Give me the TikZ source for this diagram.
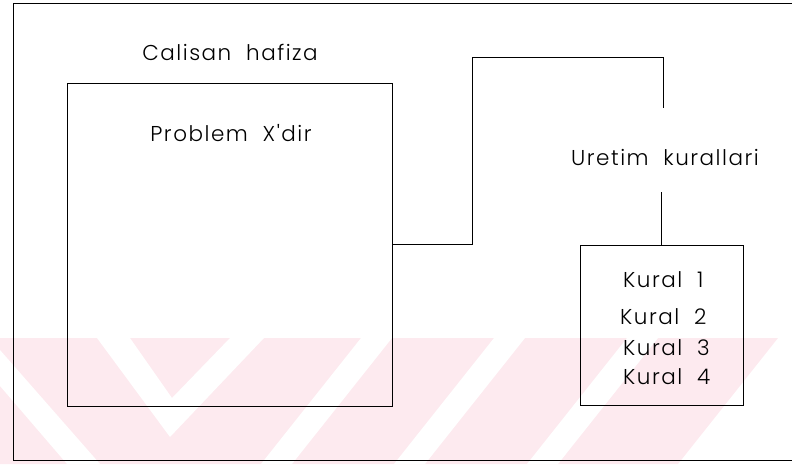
\documentclass[tikz,border=0pt]{standalone}
\usepackage{fontspec}
\setmainfont{Poppins Light}[LetterSpace=7, Ligatures=TeXReset]
\definecolor{wmpink}{RGB}{253,234,239}

\begin{document}
\begin{tikzpicture}[x=1pt, y=-1pt,
    box/.style={rectangle, draw, line width=0.9pt, inner sep=0pt},
    lbl/.style={inner sep=1pt, font=\fontsize{21.5}{24}\selectfont},
    wire/.style={line width=0.9pt}
]
    \useasboundingbox (0,0) rectangle (792,464);

    % pink band with white stripes along the bottom
    \fill[wmpink] (0,338) -- (778,338) -- (678,464) -- (0,464) -- cycle;
    \fill[white] (0,350) -- (100,464) -- (67,464) -- (0,386) -- cycle;
    \fill[white] (97,338) -- (130,338) -- (172,398) -- (230,338) -- (264,338) -- (170,437) -- cycle;
    \foreach \x in {361,494,627}
        \fill[white] (\x,338) -- (\x+31,338) -- (\x-69,464) -- (\x-100,464) -- cycle;

    % outer frame (right side runs off the page)
    \node[box, minimum width=790, minimum height=457] (hafiza) at (408,231.5) {};
    \node[lbl] (lblHafiza) at (230,52) {Calisan\ \ hafiza};

    % working memory box
    \node[box, minimum width=325, minimum height=323] (problem) at (229.5,244.5) {};
    \node[lbl] (lblProblem) at (231,133) {Problem\ \ X'dir};

    % rule base
    \node[box, minimum width=163, minimum height=160] (kurallar) at (661.5,325) {};
    \node[lbl] (lblUretim) at (665,158) {Uretim\ \ kurallari};
    \node[lbl, anchor=west] (k1) at (622,280) {Kural\ \ 1};
    \node[lbl, anchor=west] (k2) at (619,317) {Kural\ \ 2};
    \node[lbl, anchor=west] (k3) at (622,348) {Kural\ \ 3};
    \node[lbl, anchor=west] (k4) at (622,377) {Kural\ \ 4};

    % link between memory and rules
    \coordinate (bend) at (472,57);
    \coordinate (uretimUst) at (663,108);
    \coordinate (uretimAlt) at (661.5,192);
    \draw[wire] (problem.east) -| (bend) -| (uretimUst);
    \draw[wire] (uretimAlt) -- (kurallar.north);
\end{tikzpicture}
\end{document}
